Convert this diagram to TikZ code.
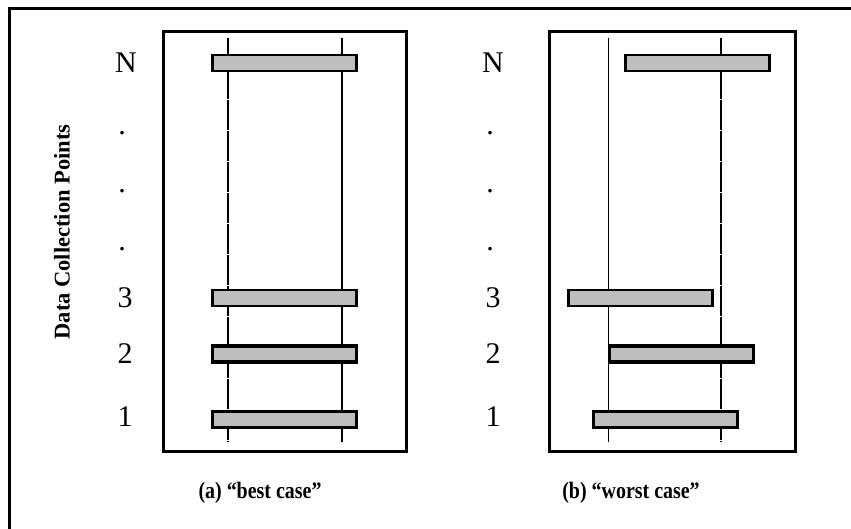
\documentclass[tikz,border=0pt]{standalone}
\usepackage{fontspec}
\setmainfont{Liberation Serif}
\begin{document}
\begin{tikzpicture}[x=1pt,y=-1pt,
  panel/.style={draw=black,line width=3pt,fill=none},
  bar/.style={draw=black,line width=2.8pt,fill=barfill,inner sep=0pt,minimum height=16pt,minimum width=144pt,anchor=west},
  thickbar/.style={bar,line width=3.4pt},
  rowlabel/.style={font=\fontsize{30}{30}\selectfont,inner sep=0pt},
  dotlabel/.style={font=\fontsize{30}{30}\selectfont,inner sep=0pt},
  caption/.style={font=\bfseries\fontsize{21}{21}\selectfont,inner sep=0pt,yscale=1.12,xscale=0.95},
  limit/.style={line width=1.4pt},
  thinlimit/.style={line width=0.8pt},
  dashlimit/.style={line width=1.4pt,dash pattern=on 30pt off 1pt}
]
\definecolor{barfill}{RGB}{190,190,190}
\useasboundingbox (0,0) rectangle (851,529);
\fill[white] (0,0) rectangle (851,529);

% outer frame: top and left edges only
\coordinate (frameTR) at (851,9);
\coordinate (frameTL) at (9.5,9);
\coordinate (frameBL) at (9.5,529);
\draw[line width=3pt] (frameTR) -- (frameTL) -- (frameBL);

% axis title
\node[font=\bfseries\fontsize{22.5}{22.5}\selectfont,rotate=90,inner sep=0pt] (axis) at (62,232) {Data Collection Points};

% ---------- panel (a) ----------
\node[panel,minimum width=243pt,minimum height=420pt,inner sep=0pt] (boxA) at (285,241.5) {};
\coordinate (aL1) at (228,38); \coordinate (aL2) at (228,442);
\coordinate (aR1) at (342,38); \coordinate (aR2) at (342,442);
\draw[dashlimit] (aL1) -- (aL2);
\draw[limit] (aR1) -- (aR2);

\node[bar] (aN) at (211,63) {};
\node[bar] (a3) at (211,298) {};
\node[thickbar] (a2) at (211,354) {};
\node[bar] (a1) at (211,419.5) {};

\node[rowlabel] (lblAN) at (126,63) {N};
\node[dotlabel] (dotA1) at (122,133) {.};
\node[dotlabel] (dotA2) at (122,191) {.};
\node[dotlabel] (dotA3) at (122,249) {.};
\node[rowlabel] (lblA3) at (125,298) {3};
\node[rowlabel] (lblA2) at (125,354) {2};
\node[rowlabel] (lblA1) at (125,417) {1};

\node[caption] (capA) at (260,493) {(a) “best case”};

% ---------- panel (b) ----------
\node[panel,minimum width=246pt,minimum height=420pt,inner sep=0pt] (boxB) at (672,241.5) {};
\coordinate (bL1) at (608,38); \coordinate (bL2) at (608,442);
\coordinate (bR1) at (721,38); \coordinate (bR2) at (721,442);
\draw[thinlimit] (bL1) -- (bL2);
\draw[dashlimit] (bR1) -- (bR2);

\node[bar] (bN) at (624,63) {};
\node[bar] (b3) at (567,298) {};
\node[thickbar] (b2) at (608,354) {};
\node[bar] (b1) at (592,419.5) {};

\node[rowlabel] (lblBN) at (493,63) {N};
\node[dotlabel] (dotB1) at (490,133) {.};
\node[dotlabel] (dotB2) at (490,191) {.};
\node[dotlabel] (dotB3) at (490,249) {.};
\node[rowlabel] (lblB3) at (493,298) {3};
\node[rowlabel] (lblB2) at (493,354) {2};
\node[rowlabel] (lblB1) at (493,417) {1};

\node[caption] (capB) at (631,493) {(b) “worst case”};
\end{tikzpicture}
\end{document}
